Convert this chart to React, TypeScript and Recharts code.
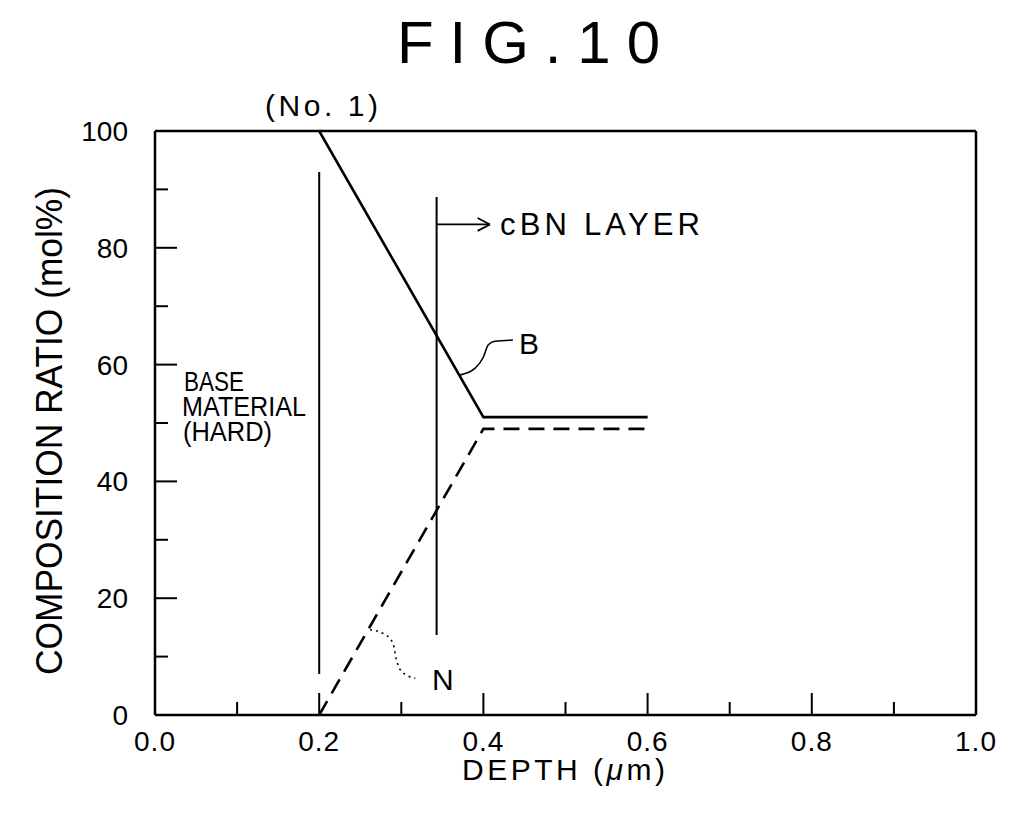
import React from "react";
import { LineChart, Line, XAxis, YAxis, ReferenceLine } from "recharts";

// composition profile (No. 1)
const depth = [0.2, 0.4, 0.6];
const boron = [100, 51, 51];
const nitrogen = [0, 49, 49];

const xTicks = [0, 0.1, 0.2, 0.3, 0.4, 0.5, 0.6, 0.7, 0.8, 0.9, 1.0];
const yTicks = [0, 10, 20, 30, 40, 50, 60, 70, 80, 90, 100];
const xMajor = ["0.0", "0.2", "0.4", "0.6", "0.8", "1.0"];
const yMajor = ["0", "20", "40", "60", "80", "100"];

// boundary markers
const baseX = 0.2;
const baseSpan = [7, 93];
const cbnX = 0.343;
const cbnSpan = [13.7, 88.7];
const arrowY = 84;
const arrowTip = 0.408;

// leader curves for the B and N labels
const bLeaderX = [0.371, 0.39, 0.4, 0.406, 0.414, 0.436];
const bLeaderY = [58.2, 59.4, 61.3, 63.4, 64.0, 64.2];
const nLeaderX = [0.262, 0.28, 0.29, 0.294, 0.3, 0.317];
const nLeaderY = [14.6, 13.8, 12.2, 9.5, 7.5, 6.3];

const pts = (xs: number[], ys: number[]) => xs.map((x, i) => ({ x, y: ys[i] }));

const FONT = "'Liberation Sans', Arial, sans-serif";

const XTick = (props: any) => {
  const { x, y, payload } = props;
  const v = payload.value;
  const k = Math.round(v * 10);
  const major = k % 2 === 0;
  return (
    <g>
      <line x1={x} x2={x} y1={y} y2={y - (major ? 22 : 13)} stroke="#000" strokeWidth={2} />
      {major && (
        <text x={x} y={y + 36} textAnchor="middle" fontSize={28} fontFamily={FONT} fill="#000" letterSpacing={1}>
          {xMajor[k / 2]}
        </text>
      )}
    </g>
  );
};

const YTick = (props: any) => {
  const { x, y, payload } = props;
  const v = payload.value;
  const major = v % 20 === 0;
  return (
    <g>
      <line x1={x} x2={x + (major ? 22 : 13)} y1={y} y2={y} stroke="#000" strokeWidth={2} />
      {major && (
        <text x={x - 27} y={y + 10} textAnchor="end" fontSize={28} fontFamily={FONT} fill="#000">
          {yMajor[v / 20]}
        </text>
      )}
    </g>
  );
};

export default function App() {
  const bData = pts(depth, boron);
  const nData = pts(depth, nitrogen);
  return (
    <div style={{ position: "absolute", left: 0, top: 0, width: 1024, height: 826, background: "#fff" }}>
      <LineChart width={1024} height={826} margin={{ top: 131, right: 48, bottom: 71, left: 95 }}>
        <XAxis
          type="number"
          dataKey="x"
          domain={[0, 1]}
          ticks={xTicks}
          height={40}
          tickSize={0}
          tickMargin={0}
          tickLine={false}
          interval={0}
          axisLine={{ stroke: "#000", strokeWidth: 2.5 }}
          tick={<XTick />}
          allowDataOverflow
        />
        <YAxis
          type="number"
          dataKey="y"
          domain={[0, 100]}
          ticks={yTicks}
          width={60}
          tickSize={0}
          tickMargin={0}
          tickLine={false}
          interval={0}
          axisLine={{ stroke: "#000", strokeWidth: 2.5 }}
          tick={<YTick />}
          allowDataOverflow
        />
        <ReferenceLine y={100} stroke="#000" strokeWidth={2.5} />
        <ReferenceLine x={1} stroke="#000" strokeWidth={2.5} />
        <ReferenceLine segment={[{ x: baseX, y: baseSpan[0] }, { x: baseX, y: baseSpan[1] }]} stroke="#000" strokeWidth={2} />
        <ReferenceLine segment={[{ x: cbnX, y: cbnSpan[0] }, { x: cbnX, y: cbnSpan[1] }]} stroke="#000" strokeWidth={2} />
        <ReferenceLine segment={[{ x: cbnX, y: arrowY }, { x: arrowTip, y: arrowY }]} stroke="#000" strokeWidth={1.8} />
        <ReferenceLine segment={[{ x: arrowTip - 0.015, y: arrowY + 1.1 }, { x: arrowTip, y: arrowY }]} stroke="#000" strokeWidth={1.8} />
        <ReferenceLine segment={[{ x: arrowTip - 0.015, y: arrowY - 1.1 }, { x: arrowTip, y: arrowY }]} stroke="#000" strokeWidth={1.8} />
        <Line data={bData} dataKey="y" type="linear" stroke="#000" strokeWidth={2.6} dot={false} isAnimationActive={false} />
        <Line data={nData} dataKey="y" type="linear" stroke="#000" strokeWidth={2.6} strokeDasharray="16 9" dot={false} isAnimationActive={false} />
        <Line data={pts(bLeaderX, bLeaderY)} dataKey="y" type="monotone" stroke="#000" strokeWidth={1.6} dot={false} isAnimationActive={false} />
        <Line data={pts(nLeaderX, nLeaderY)} dataKey="y" type="monotone" stroke="#000" strokeWidth={1.6} strokeDasharray="2 4" dot={false} isAnimationActive={false} />
      </LineChart>
      <svg width={1024} height={826} style={{ position: "absolute", left: 0, top: 0, pointerEvents: "none" }}>
        <g fontFamily={FONT} fill="#000">
          <text x={397} y={63} fontSize={60} textLength={263} lengthAdjust="spacing">FIG.10</text>
          <text x={265} y={116} fontSize={30} textLength={113} lengthAdjust="spacing">(No. 1)</text>
          <text x={500} y={235} fontSize={31} textLength={200} lengthAdjust="spacing">cBN  LAYER</text>
          <text x={519} y={354} fontSize={30}>B</text>
          <text x={432} y={690} fontSize={30}>N</text>
          <text x={184} y={391} fontSize={27} textLength={60} lengthAdjust="spacingAndGlyphs">BASE</text>
          <text x={182} y={416} fontSize={27} textLength={124} lengthAdjust="spacingAndGlyphs">MATERIAL</text>
          <text x={183} y={441} fontSize={27} textLength={89} lengthAdjust="spacingAndGlyphs">(HARD)</text>
          <text x={462} y={780} fontSize={30} textLength={203} lengthAdjust="spacing">
            DEPTH  (<tspan fontStyle="italic">μ</tspan>m)
          </text>
          <text
            x={49}
            y={431}
            fontSize={36}
            textAnchor="middle"
            dominantBaseline="central"
            textLength={488}
            lengthAdjust="spacingAndGlyphs"
            transform="rotate(-90 49 431)"
          >
            COMPOSITION  RATIO  (mol%)
          </text>
        </g>
      </svg>
    </div>
  );
}
